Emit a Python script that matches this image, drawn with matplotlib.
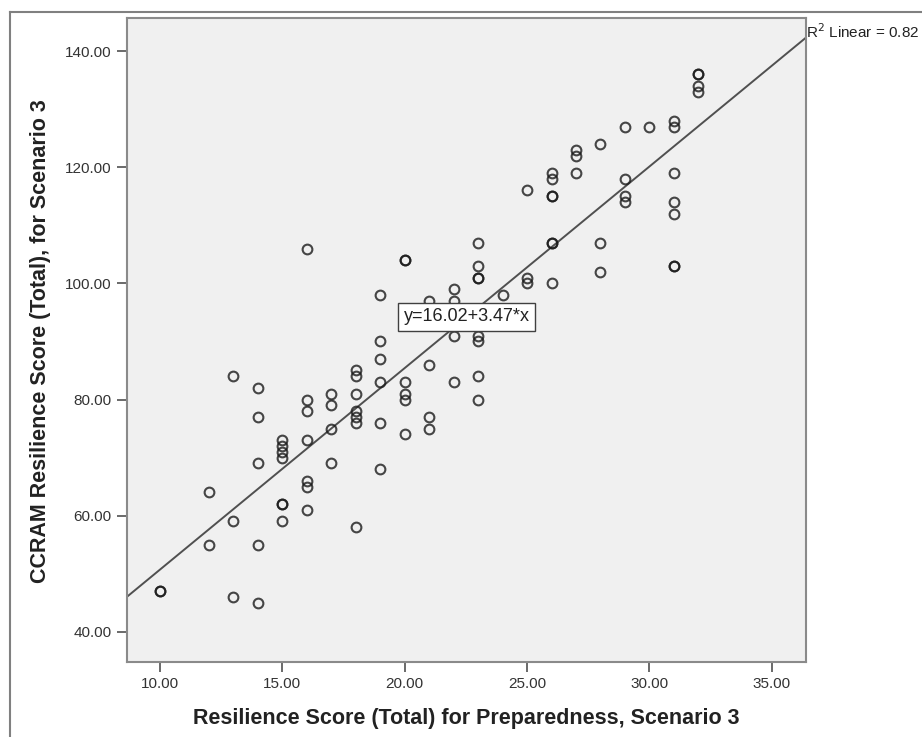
import matplotlib.pyplot as plt
from matplotlib.lines import Line2D
from matplotlib.ticker import FormatStrFormatter

plt.rcParams["font.family"] = ["Liberation Sans", "DejaVu Sans"]

# preparedness score (x) and CCRAM score (y), one entry per respondent
preparedness = [
    10, 10,
    12, 12,
    13, 13, 13,
    14, 14, 14, 14, 14,
    15, 15, 15, 15, 15, 15, 15,
    16, 16, 16, 16, 16, 16, 16,
    17, 17, 17, 17,
    18, 18, 18, 18, 18, 18, 18,
    19, 19, 19, 19, 19, 19,
    20, 20, 20, 20, 20, 20,
    21, 21, 21, 21,
    22, 22, 22, 22,
    23, 23, 23, 23, 23, 23, 23, 23,
    24,
    25, 25, 25,
    26, 26, 26, 26, 26, 26, 26,
    27, 27, 27,
    28, 28, 28,
    29, 29, 29, 29,
    30,
    31, 31, 31, 31, 31, 31, 31,
    32, 32, 32, 32,
]
ccram = [
    47, 47,
    64, 55,
    84, 59, 46,
    82, 77, 69, 55, 45,
    73, 72, 71, 70, 62, 62, 59,
    106, 80, 78, 73, 66, 65, 61,
    81, 79, 75, 69,
    85, 84, 81, 78, 77, 76, 58,
    98, 90, 87, 83, 76, 68,
    104, 104, 83, 81, 80, 74,
    97, 86, 77, 75,
    99, 97, 91, 83,
    107, 103, 101, 101, 91, 90, 84, 80,
    98,
    116, 101, 100,
    119, 118, 115, 115, 107, 107, 100,
    123, 122, 119,
    124, 107, 102,
    127, 118, 115, 114,
    127,
    128, 127, 119, 114, 112, 103, 103,
    136, 136, 134, 133,
]

intercept = 16.02
slope = 3.47
r_squared = 0.82

x_ticks = [10, 15, 20, 25, 30, 35]
y_ticks = [40, 60, 80, 100, 120, 140]
x_limits = (8.65, 36.4)
y_limits = (34.8, 145.7)

W, H = 922, 737
fig = plt.figure(figsize=(W / 100, H / 100), dpi=100)
ax = fig.add_axes([127 / W, 1 - 662 / H, (806 - 127) / W, (662 - 18) / H])
ax.set_facecolor("#f0f0f0")

ax.plot(preparedness, ccram, linestyle="none", marker="o", markersize=7,
        markerfacecolor="none", markeredgecolor=(0.1, 0.1, 0.1, 0.8),
        markeredgewidth=1.5, zorder=3)

# fit line across the whole x range
line_x = list(x_limits)
line_y = [intercept + slope * v for v in line_x]
ax.plot(line_x, line_y, color="#505050", linewidth=1.4, zorder=2)

ax.text(0.5, 0.536, f"y={intercept:.2f}+{slope:.2f}*x", transform=ax.transAxes,
        ha="center", va="center", fontsize=13, color="#222222", zorder=5,
        bbox=dict(boxstyle="square,pad=0.3", facecolor="white",
                  edgecolor="#404040", linewidth=1.0))

ax.set_xlim(*x_limits)
ax.set_ylim(*y_limits)
ax.set_xticks(x_ticks)
ax.set_yticks(y_ticks)
ax.xaxis.set_major_formatter(FormatStrFormatter("%.2f"))
ax.yaxis.set_major_formatter(FormatStrFormatter("%.2f"))
ax.tick_params(direction="out", length=7, width=1.2, color="#505050",
               labelsize=11, labelcolor="#333333", pad=4)
for s in ax.spines.values():
    s.set_color("#8a8a8a")
    s.set_linewidth(1.5)

ax.set_xlabel("Resilience Score (Total) for Preparedness, Scenario 3",
              fontsize=15.5, fontweight="bold", color="#222222",
              va="center", ha="center")
ax.set_ylabel("CCRAM Resilience Score (Total), for Scenario 3",
              fontsize=15.5, fontweight="bold", color="#222222",
              va="center", ha="center")
ax.xaxis.set_label_coords(0.5, -0.0885)
ax.yaxis.set_label_coords(-0.128, 0.498)

fig.text(806 / W, 1 - 32 / H, f"R$^2$ Linear = {r_squared:.2f}", ha="left",
         va="center", fontsize=11, color="#222222")

# outer frame of the output window
fig.add_artist(Line2D([10 / W, 1], [1 - 12 / H, 1 - 12 / H],
                      transform=fig.transFigure, color="#808080", linewidth=1.5))
fig.add_artist(Line2D([10 / W, 10 / W], [1 - 12 / H, 0],
                      transform=fig.transFigure, color="#808080", linewidth=1.5))

fig.savefig("out.png", dpi=100, facecolor="white")
